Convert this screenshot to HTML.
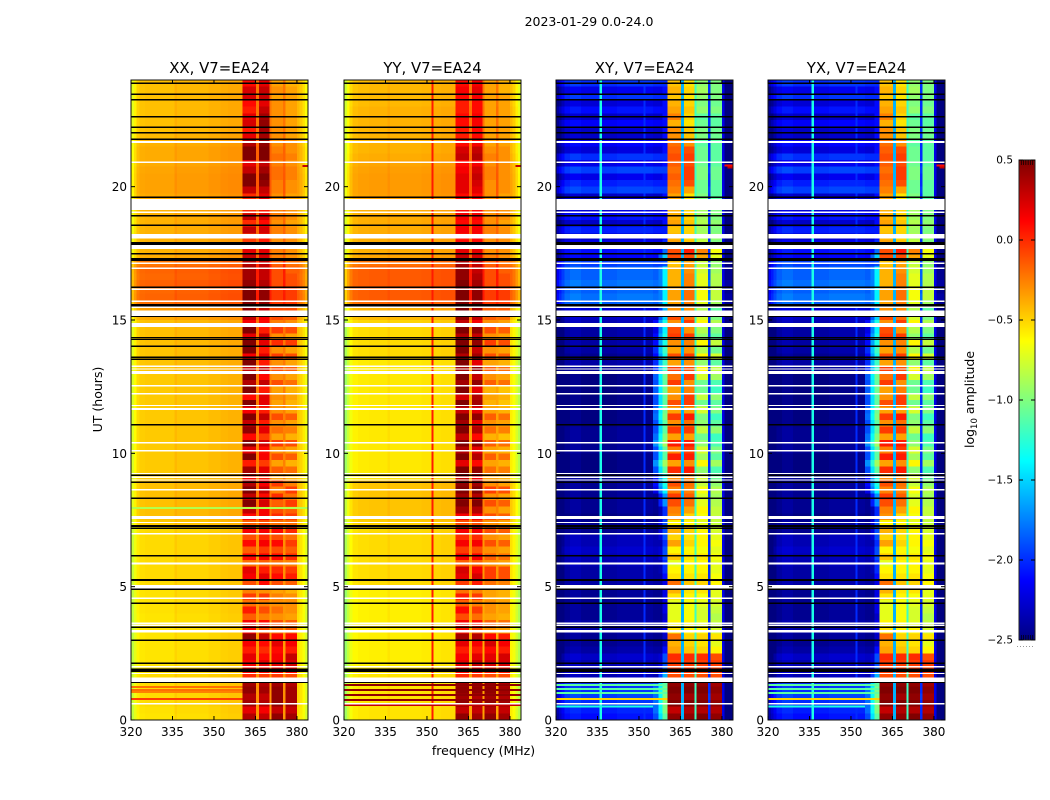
<!DOCTYPE html>
<html>
<head>
<meta charset="utf-8">
<title>2023-01-29 spectrogram panels</title>
<style>
html,body{margin:0;padding:0;background:#fff;}
svg{display:block;}
text{font-family:"DejaVu Sans","Liberation Sans",sans-serif;fill:#000;}
.cell{shape-rendering:crispEdges;}
</style>
</head>
<body>
<svg id="chart" xmlns="http://www.w3.org/2000/svg" width="1050" height="800" viewBox="0 0 1050 800">
  <text x="589" y="26" font-size="12.500" text-anchor="middle">2023-01-29 0.0-24.0</text>
  <text x="483.500" y="755" font-size="12.500" text-anchor="middle">frequency (MHz)</text>
  <text transform="translate(102,399.500) rotate(-90)" font-size="12.500" text-anchor="middle">UT (hours)</text>
  <text transform="translate(974,399.500) rotate(-90)" font-size="12.500" text-anchor="middle">log<tspan font-size="8.500" dy="3">10</tspan><tspan dy="-3"> amplitude</tspan></text>
</svg>
<script>
// ---- shared axes data ----
const freqTicks = [320,335,350,365,380];
const hourTicks = [0,5,10,15,20];
const colorbarTicks = [0.5,0,-0.5,-1,-1.5,-2,-2.5];
const colorbarTickLabels = ["0.5","0.0","\u22120.5","\u22121.0","\u22121.5","\u22122.0","\u22122.5"];
const freqEdges = [320,321,322,323,325,329,335.8,336.6,342,348,351.6,352.4,355,357,358.5,360.4,365.2,366.2,370,370.8,375,375.8,380,381,382,383,384];
const columnRoles = ["f","f","f","f","f","f","f","f","f","f","f","f","s","s","s","b0","f","b1","f","b2","f","b3","f","f","f","f"];
const rowHours = 0.25;

// ---- flagged time ranges (start hour, end hour) ----
const missingStart = [21.64,20.89,19.13,19.01,18.06,17.66,17.1,16.91,16.13,15.68,15.45,15.15,14.74,13.24,13.14,12.98,12.51,12.21,11.77,11.63,10.37,10.07,9.23,9.08,8.98,8.61,7.54,7.39,6.96,5.83,4.91,4.54,3.6,3.53,3.28,1.97,1.73,1.43,0.58];
const missingEnd   = [21.71,20.94,19.54,19.07,18.23,17.81,17.16,16.97,16.18,15.73,15.51,15.36,14.89,13.29,13.18,13.09,12.56,12.26,11.81,11.7,10.43,10.13,9.26,9.13,9.02,8.66,7.65,7.43,7.01,5.91,5.06,4.59,3.66,3.58,3.38,2.03,1.76,1.59,0.64];
const blankStart = [23.85,23.44,23.23,22.59,22.2,22,21.75,19.58,18.88,18.53,17.81,17.46,17.21,16.2,15.51,15.11,14.31,14.25,13.99,13.58,13.5,11.04,9.15,8.89,8.29,7.24,7.16,6.13,5.21,4.88,4.35,3.45,2.96,2.1,1.8,1.39];
const blankEnd   = [23.9,23.49,23.29,22.65,22.26,22.05,21.81,19.63,18.94,18.58,17.93,17.51,17.33,16.26,15.6,15.15,14.36,14.29,14.04,13.63,13.56,11.1,9.21,8.94,8.34,7.31,7.22,6.19,5.29,4.93,4.41,3.51,3.02,2.16,1.93,1.43];

// ---- XX: log10 amplitude per quarter-hour row ----
const xxBackground = [-.53,-.52,-.5,-.5,-.5,-.5,-.5,-.52,-.53,-.53,-.53,-.53,-.53,-.53,-.53,-.53,-.52,-.52,-.52,-.52,-.5,-.5,-.5,-.5,-.5,-.5,-.5,-.5,-.5,-.45,-.42,-.42,-.42,-.42,-.42,-.42,-.45,-.45,-.45,-.45,-.45,-.45,-.45,-.45,-.45,-.45,-.45,-.45,-.45,-.45,-.45,-.45,-.43,-.43,-.43,-.43,-.42,-.42,-.42,-.42,-.35,-.32,-.18,-.15,-.16,-.14,-.16,-.15,-.2,-.36,-.38,-.38,-.38,-.38,-.38,-.38,-.38,-.36,-.35,-.33,-.33,-.33,-.34,-.36,-.36,-.36,-.38,-.4,-.42,-.42,-.42,-.42,-.42,-.42,-.42,-.42];
const xxBand1 = [.35,.2,.4,.35,.45,.4,0,.1,.15,.2,.05,.15,.45,.1,.15,-.15,.05,-.2,-.05,-.25,-.1,.15,.2,-.2,.1,-.15,.1,-.1,.15,-.15,.1,.3,.5,.3,.5,.35,.1,.4,.05,.5,.2,.5,.1,.45,.3,.5,.15,.5,.1,.5,.35,.5,.3,.5,.15,.5,.5,.2,.5,.15,.3,.45,.5,.5,.5,.45,.4,.4,.35,.3,.2,-.05,-.05,.3,0,.3,0,.25,0,.3,.5,.5,.3,.2,.5,.5,.35,.2,.05,.25,.2,.05,.1,.25,.25,.1];
const xxBand2 = [.3,.15,.35,.3,.4,.35,-.05,.1,.2,.1,0,.1,.3,-.1,.1,-.25,-.1,-.25,-.05,-.3,.1,.2,.05,-.15,.15,-.05,.15,0,.15,-.1,.15,.15,.25,.1,.3,.15,.05,.2,-.05,.15,.1,.25,-.05,.2,.05,.3,.05,.2,.2,.05,.3,.1,.3,.05,.2,.05,.2,.3,.05,.1,.15,.3,.45,.45,.45,.35,.3,.3,.3,.25,.2,.05,.05,.25,.1,.25,.05,.2,.2,.3,.45,.5,.4,.3,.5,.5,.45,.4,.4,.45,.4,.3,.2,.3,.3,.2];
const xxBand3 = [.45,.3,.45,.45,.45,.4,-.05,.1,.2,.15,.1,.2,.1,-.2,-.1,-.3,-.2,-.3,-.25,-.35,-.1,.1,0,-.2,.1,-.1,.1,-.1,.1,-.2,0,-.1,-.15,0,-.25,-.05,-.35,-.15,-.35,-.1,-.3,-.05,-.35,-.2,-.3,-.1,-.3,-.35,-.3,-.35,-.1,-.3,-.1,-.3,-.05,-.3,0,-.3,-.05,-.25,-.1,-.1,-.05,-.05,-.05,-.1,-.1,-.1,-.15,-.25,-.25,-.3,-.3,-.25,-.3,-.25,-.25,-.3,-.3,-.25,-.25,-.2,-.2,-.25,-.2,-.25,-.3,-.3,-.3,-.3,-.3,-.3,-.3,-.35,-.3,-.35];
const xxBand4 = [.4,.3,.4,.4,.4,.35,-.1,.1,.25,.3,.05,.15,.1,-.15,-.15,-.35,-.3,-.3,-.3,-.4,-.15,.05,-.05,-.25,0,-.15,-.05,-.2,0,-.2,-.05,-.15,-.05,-.2,-.05,-.25,-.4,-.2,-.4,-.15,-.35,-.1,-.4,-.25,-.35,-.15,-.35,-.4,-.35,-.4,-.2,-.35,-.15,-.35,-.1,-.35,-.05,-.35,-.1,-.3,-.15,-.1,-.05,-.05,-.05,-.1,-.1,-.15,-.2,-.3,-.3,-.3,-.3,-.3,-.35,-.3,-.3,-.35,-.35,-.3,-.3,-.25,-.25,-.3,-.25,-.3,-.3,-.35,-.35,-.35,-.35,-.35,-.35,-.35,-.35,-.4];
const xxColumnOffsets = [-.28,-.17,-.07,-.03,-.02,-.02,.03,0,0,.02,.02,.04,.05,.05,.05,0,.2,0,.2,0,.2,0,0,-.05,-.12,-.22];
const xxColumnMinimum = [-9,-9,-9,-9,-9,-9,-9,-9,-9,-9,-9,-9,-9,-9,-9,-9,-9,-9,-9,-9,-9,-9,-9,-9,-9,-9];
const xxLineHours = [1.24,1.13,1.05,0.79,7.95,20.78];
const xxLineValues = [-.2,-.2,-.25,-.05,-.85,.3];
const xxLineFreqFrom = [320,320,320,320,320,382];
const xxLineFreqTo = [360.4,360.4,360.4,360.4,384,384];

// ---- YY ----
const yyBackground = [-.55,-.55,-.55,-.55,-.55,-.55,-.55,-.55,-.58,-.58,-.58,-.58,-.58,-.58,-.58,-.58,-.58,-.58,-.58,-.58,-.52,-.52,-.52,-.52,-.52,-.52,-.52,-.52,-.52,-.48,-.45,-.45,-.45,-.45,-.45,-.45,-.55,-.56,-.56,-.56,-.56,-.56,-.56,-.56,-.56,-.56,-.56,-.56,-.56,-.56,-.56,-.56,-.56,-.56,-.52,-.52,-.52,-.52,-.52,-.5,-.42,-.4,-.18,-.14,-.14,-.14,-.14,-.14,-.2,-.36,-.38,-.38,-.38,-.38,-.38,-.38,-.38,-.36,-.34,-.33,-.33,-.33,-.34,-.36,-.38,-.4,-.4,-.4,-.4,-.4,-.4,-.4,-.42,-.42,-.42,-.42];
const yyBand1 = [.45,.3,.45,.4,.45,.4,0,.1,.2,.15,.05,.2,.4,.05,.15,-.1,.1,-.15,.05,-.2,-.05,.2,.25,-.15,.15,-.05,.15,0,.15,-.1,.15,.4,.5,.4,.5,.45,.3,.5,.2,.5,.35,.5,.3,.5,.4,.5,.3,.5,.25,.5,.4,.5,.4,.5,.35,.5,.5,.35,.5,.3,.45,.5,.5,.5,.5,.5,.45,.45,.4,.3,.2,.1,.05,.15,.1,.15,.1,.15,.1,.2,.2,.2,.15,.1,.3,.25,.1,.05,.05,.1,.1,.05,.05,.1,.15,.1];
const yyBand2 = [.4,.3,.4,.35,.45,.4,-.05,.1,.3,.2,.05,.15,.35,-.1,.1,-.2,-.05,-.25,-.05,-.25,.05,.25,.15,-.15,.15,-.1,.15,0,.15,-.1,.15,.35,.5,.35,.5,.4,.15,.45,.1,.35,.2,.45,.1,.35,.2,.45,.2,.4,.35,.2,.45,.3,.45,.2,.4,.3,.45,.3,.45,.15,.3,.4,.45,.45,.45,.4,.35,.3,.3,.25,.2,.1,.1,.15,.1,.15,.1,.15,.1,.2,.25,.3,.25,.15,.35,.3,.15,.1,.1,.15,.15,.1,.1,.15,.2,.15];
const yyBand3 = [.45,.35,.45,.4,.45,.4,-.1,.05,.25,.2,.1,.25,.1,-.3,-.15,-.35,-.3,-.3,-.35,-.35,-.2,-.05,-.05,-.3,-.15,-.3,-.1,-.3,-.1,-.3,-.1,-.3,-.1,-.3,-.05,-.3,-.35,-.2,-.35,-.15,-.35,-.15,-.4,-.2,-.3,-.15,-.35,-.4,-.35,-.4,-.15,-.3,-.15,-.35,-.1,-.3,-.05,-.3,-.1,-.3,-.15,-.15,-.05,-.05,-.05,-.1,-.1,-.1,-.15,-.25,-.3,-.3,-.3,-.25,-.3,-.3,-.3,-.3,-.3,-.3,-.3,-.25,-.25,-.3,-.25,-.3,-.35,-.35,-.35,-.35,-.35,-.35,-.35,-.35,-.35,-.35];
const yyBand4 = [.4,.3,.4,.35,.4,.35,-.1,.05,.25,.25,.05,.15,.05,-.35,-.2,-.4,-.35,-.35,-.4,-.4,-.25,-.1,-.1,-.35,-.2,-.35,-.15,-.35,-.15,-.35,-.15,-.35,-.15,-.35,-.1,-.35,-.4,-.25,-.4,-.2,-.4,-.2,-.45,-.25,-.35,-.2,-.4,-.45,-.4,-.45,-.2,-.35,-.2,-.4,-.15,-.35,-.1,-.35,-.15,-.35,-.2,-.15,-.05,-.05,-.05,-.1,-.1,-.15,-.2,-.3,-.3,-.3,-.3,-.3,-.35,-.3,-.3,-.35,-.35,-.3,-.3,-.3,-.3,-.3,-.3,-.3,-.35,-.35,-.35,-.35,-.35,-.35,-.35,-.35,-.4,-.4];
const yyColumnOffsets = [-.35,-.22,-.1,-.03,-.01,0,.03,0,0,.01,0,.02,.03,.03,.03,0,.2,0,.2,0,.2,0,-.02,-.08,-.18,-.28];
const yyColumnMinimum = [-9,-9,-9,-9,-9,-9,-9,-9,-9,-9,.05,-9,-9,-9,-9,-9,-9,-9,-9,-9,-9,-9,-9,-9,-9,-9];
const yyLineHours = [1.31,1.13,.94,.75,.56,20.78];
const yyLineValues = [.45,.45,.45,.45,.3,.3];
const yyLineFreqFrom = [320,320,320,320,320,382];
const yyLineFreqTo = [384,384,384,384,384,384];

// ---- XY ----
const xyFloor = [-2.1,-2.05,-2,-1.95,-2,-2,-2.35,-2.3,-2.35,-2.3,-2.4,-2.45,-2.45,-2.4,-2.4,-2.45,-2.45,-2.45,-2.45,-2.45,-2.4,-2.4,-2.4,-2.35,-2.35,-2.3,-2.35,-2.35,-2.45,-2.45,-2.5,-2.45,-2.45,-2.45,-2.45,-2.45,-2.45,-2.5,-2.5,-2.5,-2.45,-2.45,-2.45,-2.45,-2.5,-2.5,-2.5,-2.5,-2.5,-2.5,-2.5,-2.5,-2.45,-2.4,-2.45,-2.4,-2.4,-2.4,-2.4,-2.35,-2.3,-2.25,-1.85,-1.8,-1.85,-1.8,-1.85,-1.85,-1.95,-2.15,-2.1,-2.2,-2.3,-2.05,-2.3,-2.1,-2.25,-2,-2.3,-1.95,-2.05,-2.2,-1.95,-2.2,-2,-2.25,-2.15,-2.3,-2.3,-2.15,-2.3,-2.1,-2.25,-2,-2.2,-2];
const xySkirt = [-1.1,-1,-1,-1,-1,-1.1,-1.6,-1.8,-1.9,-1.9,-2.1,-2.3,-2.3,-2.2,-2.2,-2.3,-2.2,-2.2,-2.2,-2.2,-2.2,-2.1,-2,-2,-1.9,-1.9,-2,-1.9,-1.9,-1.9,-2,-2,-1.7,-1.7,-1.4,-1.3,-1.3,-1.1,-.9,-1.1,-1.1,-.9,-1,-1.1,-1.1,-1,-1.05,-1.1,-1.1,-1.05,-1.1,-1.05,-1.2,-1.2,-1.3,-1.2,-1.3,-1.3,-1.4,-1.3,-1.5,-1.6,-1.4,-1.4,-1.4,-1.4,-1.4,-1.4,-1.9,-1.5,-1.8,-2,-2.1,-2.1,-2.1,-2.1,-2.1,-2.1,-2.1,-2.1,-2.1,-2.1,-2.1,-2.1,-2.1,-2.1,-2.1,-2.1,-2.1,-2.1,-2.1,-2.1,-2.1,-2.1,-2.1,-2.1];
const xyBand1 = [.45,.3,.5,.45,.5,.45,-.1,-.05,-.05,0,-.35,-.4,-.2,-.55,-.6,-.7,-.7,-.7,-.55,-.4,-.2,-.55,-.6,-.7,-.45,-.6,-.35,-.5,-.4,-.6,-.3,-.25,-.1,-.05,-.25,-.1,-.3,0,-.35,.05,-.25,.05,-.35,-.05,-.3,-.05,-.35,-.1,-.3,-.35,-.05,-.2,-.05,-.35,-.1,-.35,-.3,-.05,-.1,-.3,-.1,-.3,-.35,-.35,-.35,-.4,-.4,-.4,-.45,-.1,-.1,-.35,-.4,-.45,-.35,-.4,-.4,-.4,-.35,-.25,-.2,-.15,-.2,-.15,-.1,-.15,-.2,-.3,-.3,-.4,-.25,-.35,-.4,-.45,-.4,-.45];
const xyBand2 = [.45,.35,.5,.4,.5,.45,-.1,-.05,-.05,0,-.45,-.5,-.5,-.6,-.6,-.65,-.65,-.65,-.6,-.55,-.45,-.55,-.6,-.6,-.55,-.6,-.5,-.55,-.5,-.6,-.5,-.35,-.2,-.15,-.25,-.2,-.25,.05,-.3,.05,-.05,.05,-.35,-.05,-.2,.05,-.35,-.05,-.05,-.25,-.3,-.05,-.1,-.3,-.05,-.3,-.25,-.05,-.3,-.05,-.2,-.3,-.25,-.2,-.2,-.25,-.25,-.3,-.35,-.1,.05,-.45,-.5,-.5,-.45,-.5,-.5,-.5,-.55,-.35,-.1,-.05,-.05,-.1,-.05,-.1,-.3,-.45,-.45,-.55,-.5,-.45,-.5,-.55,-.5,-.55];
const xyBand3 = [.5,.35,.5,.45,.5,.45,-.1,-.05,-.05,0,-.5,-.55,-.5,-.6,-.7,-.75,-.75,-.7,-.65,-.55,-.5,-.55,-.6,-.6,-.55,-.65,-.6,-.6,-.6,-.7,-.65,-.6,-.7,-.75,-.65,-.8,-.75,-.95,-.6,-.9,-.75,-.95,-1.05,-.8,-.95,-1,-.75,-1.05,-.8,-1.05,-1.05,-.75,-.6,-.95,-.6,-.85,-.6,-.95,-.85,-.6,-.75,-.85,-.7,-.65,-.65,-.7,-.7,-.75,-.8,-.35,-.25,-.8,-.85,-.9,-.85,-.9,-.9,-.95,-1,-1.05,-1.05,-1,-1,-1.05,-1.05,-1.05,-1.1,-1,-1,-1.05,-1.1,-.95,-1,-.95,-.9,-.95];
const xyBand4 = [.45,.35,.45,.4,.45,.4,-.1,-.05,-.05,-.1,-.6,-.7,-.55,-.75,-.8,-.85,-.8,-.75,-.7,-.7,-.6,-.65,-.7,-.7,-.65,-.7,-.65,-.7,-.75,-.8,-.8,-.8,-.85,-.9,-.85,-.95,-1.05,-1.15,-.9,-1.1,-1,-1.15,-1.2,-.95,-1.1,-1.2,-1,-1.1,-.95,-1.2,-1.15,-.9,-.8,-1.1,-.75,-1.05,-.8,-1.1,-1,-.85,-1,-1.1,-.9,-.8,-.8,-.85,-.85,-.9,-.95,-.7,-.65,-1,-.95,-1,-.95,-1,-1,-1.05,-1.1,-1.1,-1.1,-1.05,-1.05,-1.1,-1.1,-1.1,-1.1,-1.05,-1.05,-1.1,-1.1,-1,-1.05,-1,-1,-1];
const crossColumnOffsets = [-.3,-.2,-.1,0,.05,0,0,0,.03,.03,.03,.03,-.8,-.35,0,0,0,0,0,0,0,0,-.5,-.6,-.6,-.6];
const crossColumnMinimum = [-9,-9,-9,-9,-9,-9,-1.3,-9,-9,-9,-2,-9,-9,-9,-9,-9,-1.6,-9,-1.2,-9,-2,-9,-2.2,-9,-9,-9];
const xyLineHours = [1.31,1.16,1.01,.79,.5,20.8,20.72];
const xyLineValues = [-1.1,-1.1,-1.1,-.5,-1.3,.1,.3];
const xyLineFreqFrom = [320,320,320,320,320,381,382];
const xyLineFreqTo = [360.4,360.4,360.4,360.4,355,384,384];

// ---- YX (follows XY closely in the reference) ----
const yxFloor = xyFloor;
const yxSkirt = xySkirt;
const yxBand1 = xyBand1;
const yxBand2 = xyBand2;
const yxBand3 = xyBand3;
const yxBand4 = xyBand4;
const yxLineHours = xyLineHours;
const yxLineValues = xyLineValues;
const yxLineFreqFrom = xyLineFreqFrom;
const yxLineFreqTo = xyLineFreqTo;

const panels = [
  {key:'xx',title:'XX, V7=EA24',x:131,base:xxBackground,skirt:null,bands:[xxBand1,xxBand2,xxBand3,xxBand4],offsets:xxColumnOffsets,minimum:xxColumnMinimum,lh:xxLineHours,lv:xxLineValues,lf:xxLineFreqFrom,lt:xxLineFreqTo},
  {key:'yy',title:'YY, V7=EA24',x:344,base:yyBackground,skirt:null,bands:[yyBand1,yyBand2,yyBand3,yyBand4],offsets:yyColumnOffsets,minimum:yyColumnMinimum,lh:yyLineHours,lv:yyLineValues,lf:yyLineFreqFrom,lt:yyLineFreqTo},
  {key:'xy',title:'XY, V7=EA24',x:556,base:xyFloor,skirt:xySkirt,bands:[xyBand1,xyBand2,xyBand3,xyBand4],offsets:crossColumnOffsets,minimum:crossColumnMinimum,lh:xyLineHours,lv:xyLineValues,lf:xyLineFreqFrom,lt:xyLineFreqTo},
  {key:'yx',title:'YX, V7=EA24',x:768,base:yxFloor,skirt:yxSkirt,bands:[yxBand1,yxBand2,yxBand3,yxBand4],offsets:crossColumnOffsets,minimum:crossColumnMinimum,lh:yxLineHours,lv:yxLineValues,lf:yxLineFreqFrom,lt:yxLineFreqTo}
];

const NS = 'http://www.w3.org/2000/svg';
const chart = document.getElementById('chart');
const plotTop = 80, plotBottom = 720, plotWidth = 177;
const hourScale = h => plotBottom - h * (plotBottom - plotTop) / 24;
const freqScale = (p, f) => p.x + (f - 320) * plotWidth / 64;
const cbTop = 160, cbBottom = 640, cbLeft = 1019, cbRight = 1035;
const cbScale = v => cbBottom - (v + 2.5) * (cbBottom - cbTop) / 3;

function jet(v) {
  const x = Math.min(1, Math.max(0, (v + 2.5) / 3));
  const c = t => Math.round(255 * Math.min(1, Math.max(0, t)));
  return 'rgb(' + c(Math.min(4 * x - 1.5, -4 * x + 4.5)) + ',' + c(Math.min(4 * x - 0.5, -4 * x + 3.5)) + ',' + c(Math.min(4 * x + 0.5, -4 * x + 2.5)) + ')';
}
function make(tag, parent, props) {
  const node = document.createElementNS(NS, tag);
  for (const k in props) node.setAttribute(k, props[k]);
  parent.appendChild(node);
  return node;
}
function cellValue(p, row, col) {
  const role = columnRoles[col];
  if (role[0] === 'b') return p.bands[+role[1]][row];
  let v = p.base[row] + p.offsets[col];
  if (role === 's' && p.skirt) v = Math.max(p.base[row], p.skirt[row] + p.offsets[col]);
  return Math.max(v, p.minimum[col]);
}

panels.forEach(p => {
  const g = make('g', chart, {});
  
  

  for (let row = 0; row < p.base.length; row++) {
    for (let col = 0; col < columnRoles.length; col++) {
      const x0 = freqScale(p, freqEdges[col]), x1 = freqScale(p, freqEdges[col + 1]);
      const y1 = hourScale(row * rowHours), y0 = hourScale((row + 1) * rowHours);
      const el = make('rect', g, {x: x0, y: y0, width: x1 - x0, height: y1 - y0, fill: jet(cellValue(p, row, col)), class: 'cell'});
      
      
    }
  }
  p.lh.forEach((h, i) => {
    const x0 = freqScale(p, p.lf[i]), x1 = freqScale(p, p.lt[i]);
    const el = make('rect', g, {x: x0, y: hourScale(h) - 1, width: x1 - x0, height: 2, fill: jet(p.lv[i]), class: 'cell'});
    
    
  });
  missingStart.forEach((s, i) => {
    const el = make('rect', g, {x: p.x, y: hourScale(missingEnd[i]), width: plotWidth, height: hourScale(s) - hourScale(missingEnd[i]), fill: '#fff', class: 'cell'});
    
    
  });
  blankStart.forEach((s, i) => {
    const el = make('rect', g, {x: p.x, y: hourScale(blankEnd[i]), width: plotWidth, height: hourScale(s) - hourScale(blankEnd[i]), fill: '#000', class: 'cell'});
    
    
  });
  const frame = make('rect', g, {x: p.x, y: plotTop, width: plotWidth, height: plotBottom - plotTop, fill: 'none', stroke: '#111', 'stroke-width': 1});
  
  

  const title = make('text', g, {x: p.x + plotWidth / 2, y: 73, 'font-size': 14.9, 'text-anchor': 'middle'});
  title.textContent = p.title;
  
  

  freqTicks.forEach(f => {
    const x = freqScale(p, f);
    [[plotBottom, plotBottom - 4], [plotTop, plotTop + 4]].forEach(e => {
      const t = make('line', g, {x1: x, x2: x, y1: e[0], y2: e[1], stroke: '#000', 'stroke-width': 1});
      
      
    });
    const lab = make('text', g, {x: x, y: 736, 'font-size': 12, 'text-anchor': 'middle'});
    lab.textContent = f;
    
    
  });
  hourTicks.forEach(h => {
    const y = hourScale(h);
    [[p.x, p.x + 4], [p.x + plotWidth, p.x + plotWidth - 4]].forEach(e => {
      const t = make('line', g, {x1: e[0], x2: e[1], y1: y, y2: y, stroke: '#000', 'stroke-width': 1});
      
      
    });
    const lab = make('text', g, {x: p.x - 4, y: y + 4.5, 'font-size': 12, 'text-anchor': 'end'});
    lab.textContent = h;
    
    
  });
});

// ---- colorbar ----
const cb = make('g', chart, {});


for (let i = 0; i < 240; i++) {
  const v = -2.5 + 3 * (i + 0.5) / 240;
  const h = (cbBottom - cbTop) / 240;
  const seg = make('rect', cb, {x: cbLeft, y: cbScale(v) - h / 2, width: cbRight - cbLeft, height: h + 0.5, fill: jet(v), class: 'cell'});
  
  
}
const cbFrame = make('rect', cb, {x: cbLeft, y: cbTop, width: cbRight - cbLeft, height: cbBottom - cbTop, fill: 'none', stroke: '#222', 'stroke-width': 1});


for (let i = 1; i < 7; i++) {
  const x = cbLeft + i * (cbRight - cbLeft) / 7;
  [[cbTop, cbTop + 5], [cbBottom, cbBottom - 5]].forEach(e => {
    const t = make('line', cb, {x1: x, x2: x, y1: e[0], y2: e[1], stroke: '#000', 'stroke-width': 0.7});
    
    
  });
}
colorbarTicks.forEach((v, i) => {
  const y = cbScale(v);
  [[cbLeft, cbLeft + 4], [cbRight, cbRight - 4]].forEach(e => {
    const t = make('line', cb, {x1: e[0], x2: e[1], y1: y, y2: y, stroke: '#000', 'stroke-width': 1});
    
    
  });
  const lab = make('text', cb, {x: 1013, y: y + 3.5, 'font-size': 10.5, 'text-anchor': 'end'});
  lab.textContent = colorbarTickLabels[i];
  
  
});
const dots = make('line', cb, {x1: 1017, x2: 1035, y1: 646.500, y2: 646.500, stroke: '#999', 'stroke-width': 1, 'stroke-dasharray': '1 2'});


</script>
</body>
</html>
